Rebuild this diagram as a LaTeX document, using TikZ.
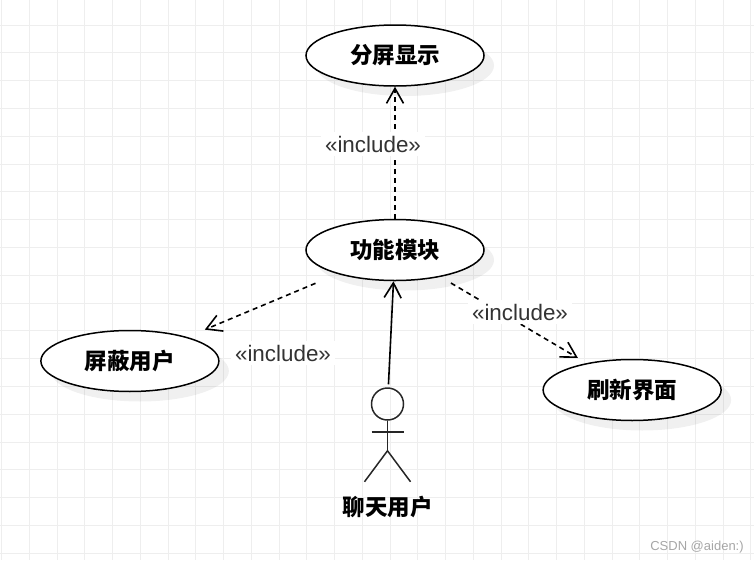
\documentclass[tikz,border=0pt]{standalone}
\usepackage{fontspec}
\setmainfont{Liberation Sans}
\newfontfamily\cjkfont{Noto Sans CJK SC}
\usetikzlibrary{arrows.meta, positioning, shapes.geometric, shadows}
\definecolor{gridgray}{HTML}{EEEEEE}
\definecolor{labelgray}{HTML}{333333}

\begin{document}
\begin{tikzpicture}[
    x=1pt, y=-1pt,
    usecase/.style={ellipse, draw=black, line width=1.5pt, fill=white, inner sep=0pt, minimum width=178pt, minimum height=61pt, font=\cjkfont\bfseries\fontsize{22.5}{26}\selectfont, drop shadow={shadow xshift=10pt, shadow yshift=-10pt, fill=black, opacity=0.06}},
    includelabel/.style={fill=white, inner sep=4pt, text=labelgray, font=\fontsize{22.4}{26}\selectfont},
    include/.style={-{Straight Barb[length=15pt, width=17pt]}, line width=1.6pt, dash pattern=on 5pt off 4pt},
    association/.style={-{Straight Barb[length=15pt, width=17pt]}, line width=1.6pt},
    actorline/.style={line width=1.5pt, draw=black!85}
]
\useasboundingbox (0,0) rectangle (754,560);

% Grid
\foreach \gx in {0,...,27} {
    \draw[gridgray, line width=1pt] (1.5+27.75*\gx,0) -- (1.5+27.75*\gx,560);
}
\foreach \gy in {0,...,19} {
    \draw[gridgray, line width=1pt] (0,25+27.8*\gy) -- (754,25+27.8*\gy);
}

% Use cases
\node (splitDisplay) [usecase] at (395,55.5) {分屏显示};
\node (funcModule) [usecase, below=132pt of splitDisplay] {功能模块};
\node (maskUser) [usecase, below left=66.8pt and 138.2pt of funcModule] {屏蔽用户};
\node (refreshView) [usecase, below right=95.8pt and 110.2pt of funcModule] {刷新界面};

% Actor
\node (actorHead) [circle, actorline, draw, inner sep=0pt, minimum size=32pt, below=106pt of funcModule, xshift=-7.5pt] {};
\coordinate (actorHip) at ([yshift=-30pt]actorHead.south);
\coordinate (armLeft) at ([xshift=-16pt, yshift=-11pt]actorHead.south);
\coordinate (armRight) at ([xshift=16pt, yshift=-11pt]actorHead.south);
\coordinate (legLeft) at ([xshift=-23pt, yshift=-31pt]actorHip);
\coordinate (legRight) at ([xshift=23pt, yshift=-31pt]actorHip);
\node (chatUser) [font=\cjkfont\bfseries\fontsize{22.5}{26}\selectfont, inner sep=0pt, below=75pt of actorHead.south] {聊天用户};
\draw[actorline] (actorHead.south) -- (actorHip);
\draw[actorline] (armLeft) -- (armRight);
\draw[actorline] (legLeft) -- (actorHip) -- (legRight);

% Arrows
\draw[include] (funcModule) -- (splitDisplay);
\draw[include, shorten <=24pt, shorten >=19pt] (funcModule) -- (maskUser);
\draw[include, shorten <=12pt, shorten >=10pt] (funcModule) -- (refreshView);
\draw[association, shorten <=3pt] (actorHead) -- (funcModule);

% Labels
\node (labelSplit) [includelabel] at (373,144) {«include»};
\node (labelMask) [includelabel] at (283,353) {«include»};
\node (labelRefresh) [includelabel] at (520,312) {«include»};

% Watermark
\node (watermark) [text=black!35, inner sep=0pt, font=\fontsize{13}{15}\selectfont] at (697,547) {CSDN @aiden:)};

\end{tikzpicture}
\end{document}
